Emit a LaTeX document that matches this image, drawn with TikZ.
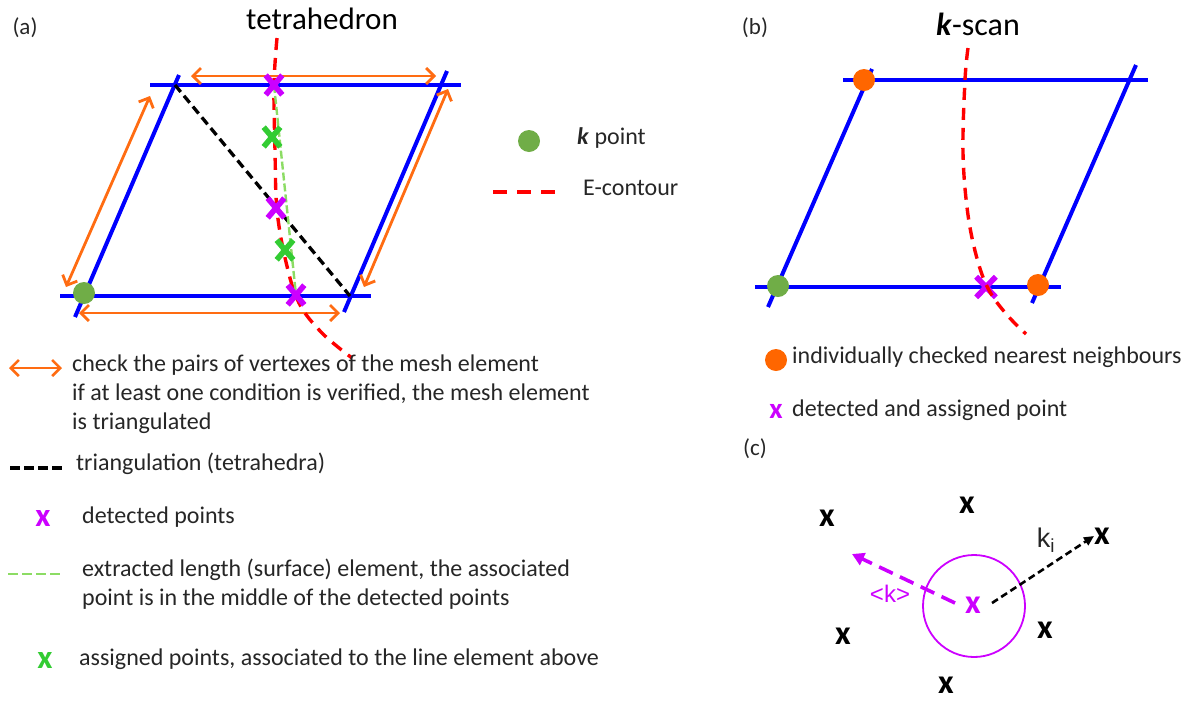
\documentclass[tikz,border=0pt]{standalone}
\usepackage{fontspec}
\setmainfont{Carlito}
\newfontfamily\arialf{Liberation Sans}
\usetikzlibrary{arrows.meta,shapes.misc}
\definecolor{bluel}{RGB}{0,0,255}
\definecolor{orng}{RGB}{255,108,18}
\definecolor{odot}{RGB}{255,102,0}
\definecolor{gdot}{RGB}{112,173,71}
\definecolor{mgt}{RGB}{204,0,255}
\definecolor{gx}{RGB}{51,204,51}
\definecolor{lgreen}{RGB}{140,220,100}
\definecolor{rd}{RGB}{255,0,0}
\definecolor{txtc}{RGB}{38,38,38}
\tikzset{
  blueline/.style={draw=bluel,line width=4pt},
  oarr/.style={draw=orng,line width=2.8pt,{Straight Barb[length=8pt,width=16pt]}-{Straight Barb[length=8pt,width=16pt]}},
  reddash/.style={draw=rd,line width=3.4pt,dash pattern=on 12pt off 8pt},
  blackdash/.style={draw=black,line width=3.3pt,dash pattern=on 9pt off 5pt},
  greendash/.style={draw=lgreen,line width=2.4pt,dash pattern=on 8pt off 3pt},
  kdot/.style={circle,fill=#1,minimum size=22pt,inner sep=0pt},
  xcr/.style={cross out,draw=#1,line width=5.6pt,minimum width=11pt,minimum height=14pt,inner sep=0pt},
  lx/.style={text=#1,font=\bfseries\fontsize{33}{33}\selectfont,inner sep=0pt},
  bx/.style={text=black,font=\bfseries\fontsize{34}{34}\selectfont,inner sep=0pt},
  txt/.style={text=txtc,font=\fontsize{24}{29}\selectfont,anchor=west,inner sep=0pt,text height=1.5ex,text depth=.25ex},
  ttl/.style={text=black,font=\fontsize{31}{35}\selectfont,inner sep=0pt},
  lab/.style={text=txtc,font=\fontsize{23}{27}\selectfont,inner sep=0pt}
}
\begin{document}
\begin{tikzpicture}[x=1pt,y=-1pt]
\useasboundingbox (0,0) rectangle (1193,702);
% ---------------- panel (a) ----------------
\node[lab] (la) at (25,28) {(a)};
\node[ttl] (ta) at (322,19) {tetrahedron};
\coordinate (TL) at (175,85);
\coordinate (TR) at (441,85);
\coordinate (BL) at (84,296);
\coordinate (BR) at (350,296);
\draw[blueline] (150,85) -- (461,85);
\draw[blueline] (60,296) -- (371,296);
\draw[blueline] (179,75) -- (75,317);
\draw[blueline] (447,71) -- (344,312);
\draw[blackdash] (TL) -- (BR);
\draw[oarr] (191,76) -- (436,76);
\draw[oarr] (79,313) -- (340,313);
\draw[oarr] (150,96) -- (66,287);
\draw[oarr] (448,89) -- (364,287);
\draw[reddash] plot[smooth,tension=0.6] coordinates {(277,38) (274,85) (275,150) (277,210) (286,262) (299,303) (322,333) (352,358)};
\coordinate (m1c) at (274,85);
\coordinate (m3c) at (296,295);
\draw[greendash] (m1c) -- (m3c);
\node[xcr=mgt] (m1) at (m1c) {};
\node[xcr=mgt] (m2) at (276,208) {};
\node[xcr=mgt] (m3) at (m3c) {};
\node[xcr=gx] (g1) at (272,137) {};
\node[xcr=gx] (g2) at (285,250) {};
\node[kdot=gdot] (kp) at (84,293) {};
% legend right of (a)
\node[kdot=gdot] (lkp) at (529,141) {};
\node[txt] (tkp) at (577,142) {\textbf{\textit{k}} point};
\coordinate (rl1) at (493,192);
\coordinate (rl2) at (555,192);
\draw[reddash,dash pattern=on 14pt off 10pt] (rl1) -- (rl2);
\node[txt] (tec) at (583,193) {E-contour};
% legend below (a)
\coordinate (oa1) at (9,368);
\coordinate (oa2) at (62,368);
\draw[oarr,line width=2.6pt] (oa1) -- (oa2);
\node[txt] (t1) at (72,369) {check the pairs of vertexes of the mesh element};
\node[txt] (t2) at (72,398) {if at least one condition is verified, the mesh element};
\node[txt] (t3) at (72,427) {is triangulated};
\coordinate (bd1) at (10,468);
\coordinate (bd2) at (62,468);
\draw[blackdash,dash pattern=on 10pt off 4pt] (bd1) -- (bd2);
\node[txt] (t4) at (76,468) {triangulation (tetrahedra)};
\node[lx=mgt] (lm) at (43,518) {x};
\node[txt] (t5) at (82,521) {detected points};
\coordinate (gd1) at (8,574);
\coordinate (gd2) at (60,574);
\draw[greendash,line width=1.8pt,dash pattern=on 10pt off 4pt] (gd1) -- (gd2);
\node[txt] (t6) at (82,574) {extracted length (surface) element, the associated};
\node[txt] (t7) at (82,603) {point is in the middle of the detected points};
\node[lx=gx] (lg) at (45,660) {x};
\node[txt] (t8) at (79,663) {assigned points, associated to the line element above};
% ---------------- panel (b) ----------------
\node[lab] (lb) at (755,28) {(b)};
\node[ttl,font=\fontsize{32}{36}\selectfont] (tb) at (978,24) {\textbf{\textit{k}}-scan};
\draw[blueline] (843,80) -- (1148,80);
\draw[blueline] (755,287) -- (1061,287);
\draw[blueline] (872,69) -- (768,307);
\draw[blueline] (1136,65) -- (1032,303);
\node[xcr=mgt,minimum width=14pt,minimum height=15pt] (mb) at (986,287) {};
\draw[reddash] plot[smooth,tension=0.6] coordinates {(968,48) (965,80) (963,153) (968,215) (978,262) (990,292) (1008,316) (1026,334)};
\node[kdot=odot] (o1) at (864,80) {};
\node[kdot=gdot] (g3) at (778,286) {};
\node[kdot=odot] (o2) at (1038,285) {};
\node[kdot=odot] (lo) at (776,360) {};
\node[txt] (t9) at (792,361) {individually checked nearest neighbours};
\node[lx=mgt,font=\bfseries\fontsize{29}{29}\selectfont] (lmb) at (776,411) {x};
\node[txt] (t10) at (792,414) {detected and assigned point};
% ---------------- panel (c) ----------------
\node[lab] (lc) at (755,449) {(c)};
\node[bx] (x1) at (827,518) {x};
\node[bx] (x2) at (967,505) {x};
\node[bx] (x3) at (1102,536) {x};
\node[bx] (x4) at (843,636) {x};
\node[bx] (x5) at (1045,630) {x};
\node[bx] (x6) at (946,685) {x};
\node[draw=mgt,line width=1.8pt,circle,minimum size=102pt,inner sep=0pt] (circ) at (974,606) {};
\node[bx,text=mgt] (xc) at (973,605) {x};
\coordinate (kb1) at (992,603);
\draw[draw=black,line width=2.6pt,dash pattern=on 7pt off 4pt,-{Triangle[length=10pt,width=9pt]}] (kb1) -- (x3.west);
\node[text=txtc,font=\arialf\fontsize{27}{30}\selectfont,inner sep=0pt] (ki) at (1046,540) {k\textsubscript{i}};
\coordinate (km1) at (955,603);
\coordinate (km2) at (852,554);
\draw[draw=mgt,line width=3.6pt,dash pattern=on 15pt off 8pt,-{Triangle[length=12pt,width=13pt]}] (km1) -- (km2);
\node[text=mgt,font=\arialf\fontsize{24}{28}\selectfont,inner sep=0pt] (kav) at (890,594) {<k>};
\end{tikzpicture}
\end{document}
